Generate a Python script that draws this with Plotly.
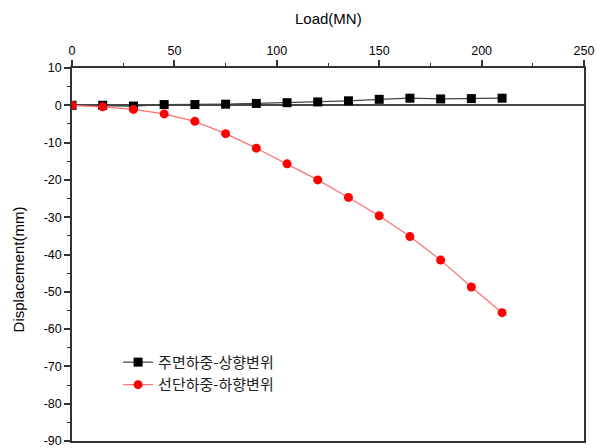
import plotly.graph_objects as go

load = [0, 15, 30, 45, 60, 75, 90, 105, 120, 135, 150, 165, 180, 195, 210]
upward = [0, 0, -0.2, 0.2, 0.2, 0.3, 0.5, 0.7, 0.9, 1.2, 1.6, 1.9, 1.7, 1.8, 1.9]
downward = [0, -0.4, -1.1, -2.3, -4.3, -7.6, -11.5, -15.7, -20.0, -24.7, -29.6, -35.2, -41.5, -48.7, -55.6]
y_ticks = [10, 0, -10, -20, -30, -40, -50, -60, -70, -80, -90]
y_tick_labels = ["10", "0", "-10", "-20", "-30", "-40", "-50", "-60", "-70", "-80", "-90"]
name_up = "주면하중-상향변위"
name_down = "선단하중-하향변위"

fig = go.Figure()
fig.add_trace(go.Scatter(
    x=load, y=upward, name=name_up, mode="lines+markers",
    line=dict(color="#444444", width=1.2),
    marker=dict(symbol="square", size=9, color="black"),
))
fig.add_trace(go.Scatter(
    x=load, y=downward, name=name_down, mode="lines+markers",
    line=dict(color="#ff7070", width=1.2),
    marker=dict(symbol="circle", size=9, color="#ff0000"),
))

font_main = "Liberation Sans, Arial, sans-serif"
fig.update_layout(
    width=605, height=448,
    margin=dict(l=64, r=29, t=60, b=15),
    paper_bgcolor="white", plot_bgcolor="white",
    font=dict(family=font_main, size=12, color="black"),
    showlegend=True,
    legend=dict(
        x=0.09, y=0.255, xanchor="left", yanchor="top",
        bgcolor="rgba(0,0,0,0)",
        font=dict(family="Noto Sans CJK KR", size=15, color="#222222"),
        itemwidth=30, tracegroupgap=0,
    ),
    xaxis=dict(
        side="top", range=[0, 250], dtick=50, tick0=0, automargin=False,
        showgrid=False, zeroline=False,
        showline=True, linecolor="#333333", linewidth=1.5, mirror=True,
        ticks="outside", ticklen=6, tickwidth=1.5, tickcolor="#333333",
        minor=dict(dtick=25, ticks="outside", ticklen=3, tickwidth=1, tickcolor="#333333"),
        tickfont=dict(size=12.5),
    ),
    yaxis=dict(
        range=[-90, 10], tickvals=y_ticks, ticktext=y_tick_labels, automargin=False,
        showgrid=False,
        zeroline=True, zerolinecolor="#444444", zerolinewidth=1.5,
        showline=True, linecolor="#333333", linewidth=1.5, mirror=True,
        ticks="outside", ticklen=6, tickwidth=1.5, tickcolor="#333333",
        minor=dict(dtick=5, ticks="outside", ticklen=3, tickwidth=1, tickcolor="#333333"),
        tickfont=dict(size=12.5),
    ),
    annotations=[
        dict(text="Load(MN)", xref="paper", yref="paper", x=0.5, y=1.0,
             yshift=50, showarrow=False, font=dict(size=15), xanchor="center", yanchor="middle"),
        dict(text="Displacement(mm)", xref="paper", yref="paper", x=0.0, y=0.46,
             xshift=-54, showarrow=False, textangle=-90, font=dict(size=15),
             xanchor="center", yanchor="middle"),
    ],
)

fig.write_html("out.html")
